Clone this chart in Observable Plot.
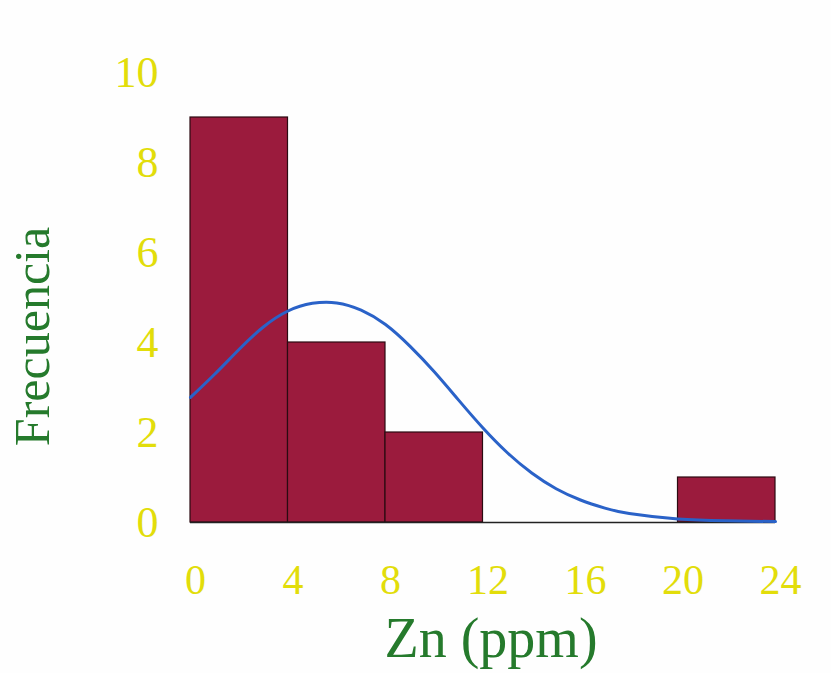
<!DOCTYPE html>
<html>
<head>
<meta charset="utf-8">
<script src="https://cdn.jsdelivr.net/npm/d3@7"></script>
<script src="https://cdn.jsdelivr.net/npm/@observablehq/plot@0.6"></script>
<style>
  html, body { margin: 0; padding: 0; background: #fefefe; }
</style>
</head>
<body>
<div id="chart"></div>
<script>
// Histogram bins (Zn ppm) and counts
const binStarts = [0, 4, 8, 12, 16, 20];
const binEnds   = [4, 8, 12, 16, 20, 24];
const counts    = [9, 4, 2, 0, 0, 1];

// Fitted normal curve
const curveX = [0, 1, 2, 3, 4, 5, 6, 7, 8, 9, 10, 11, 12, 13, 14, 15, 16, 17, 18, 20, 22, 24];
const curveY = [2.78, 3.3, 3.85, 4.35, 4.7, 4.87, 4.88, 4.72, 4.4, 3.92, 3.35, 2.72, 2.1, 1.55, 1.1, 0.75, 0.5, 0.32, 0.2, 0.08, 0.04, 0.02];

const xTicks = [0, 4, 8, 12, 16, 20, 24];
const yTicks = [0, 2, 4, 6, 8, 10];

const bins = binStarts.map((s, i) => ({x1: s, x2: binEnds[i], y: counts[i]})).filter(d => d.y > 0);
const curve = curveX.map((x, i) => ({x, y: curveY[i]}));

const yellow = "#e2dd0a";
const green = "#257a2c";

const chart = Plot.plot({
  width: 831,
  height: 673,
  marginTop: 72,
  marginBottom: 151,
  marginLeft: 190,
  marginRight: 56,
  style: {fontFamily: "Liberation Serif, serif", background: "#fefefe"},
  x: {domain: [0, 24]},
  y: {domain: [0, 10]},
  marks: [
    Plot.rectY(bins, {x1: "x1", x2: "x2", y: "y", fill: "#9b1b3d", stroke: "#2b0b12", strokeWidth: 1.2}),
    Plot.ruleY([0], {stroke: "#222", strokeWidth: 1.5}),
    Plot.line(curve, {x: "x", y: "y", stroke: "#2a62c8", strokeWidth: 3, curve: "natural"}),
    Plot.axisY({ticks: yTicks, tickSize: 0, tickPadding: 32, fontSize: 44, color: yellow, label: null}),
    Plot.axisX({ticks: xTicks, tickSize: 0, tickPadding: 42, dx: 5, fontSize: 42, color: yellow, label: null}),
    Plot.text(["Frecuencia"], {text: d => d, frameAnchor: "left", textAnchor: "middle", dx: -158, dy: 39, rotate: -90, fontSize: 50, fill: green}),
    Plot.text(["Zn (ppm)"], {text: d => d, frameAnchor: "bottom", dy: 134, dx: 8, fontSize: 56, fill: green})
  ]
});
document.getElementById("chart").appendChild(chart);
</script>
</body>
</html>
